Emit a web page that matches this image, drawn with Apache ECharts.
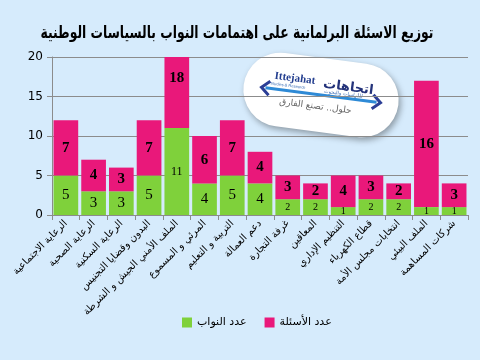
<!DOCTYPE html>
<html>
<head>
<meta charset="utf-8">
<script src="https://cdn.jsdelivr.net/npm/echarts@6/dist/echarts.min.js"></script>
<style>
html,body{margin:0;padding:0;background:#D6EBFC;}
#chart{width:480px;height:360px;}
</style>
</head>
<body>
<div id="chart"></div>
<script>
var title = 'توزيع الاسئلة البرلمانية على اهتمامات النواب بالسياسات الوطنية';
var categories = [
  'الرعاية الاجتماعية',
  'الرعاية الصحية',
  'الرعاية السكنية',
  'البدون وقضايا التجنيس',
  'الملف الأمني الجيش و الشرطة',
  'المرئي و المسموع',
  'التربية و التعليم',
  'دعم العمالة',
  'غرفة التجارة',
  'المعاقين',
  'التنظيم الإداري',
  'قطاع الكهرباء',
  'انتخابات مجلس الأمة',
  'الملف البيئي',
  'شركات المساهمة'
];
var seriesNames = ['عدد النواب', 'عدد الأسئلة'];
var deputies  = [5, 3, 3, 5, 11, 4, 5, 4, 2, 2, 1, 2, 2, 1, 1];
var questions = [7, 4, 3, 7, 18, 6, 7, 4, 3, 2, 4, 3, 2, 16, 3];
var yTicks = [0, 5, 10, 15, 20];

var GREEN = '#7FD13B', PINK = '#E9187A';
var SERIF = '"Liberation Serif","DejaVu Serif",serif';
var SANS = '"DejaVu Sans","Liberation Sans",sans-serif';

// fit title to the reference width
var TITLE_FONT = 'bold 17px "DejaVu Sans",sans-serif';
var cv = document.createElement('canvas').getContext('2d');
cv.font = TITLE_FONT;
var titleScale = 393 / cv.measureText(title).width;

var chart = echarts.init(document.getElementById('chart'), null, {renderer:'canvas'});

var yMax = yTicks[yTicks.length-1];
var greenData = deputies.map(function(v){
  var fs = v >= 10 ? 12 : (v <= 2 ? 10 : 15);
  return {value: v, label: {fontSize: fs}};
});
var pinkData = questions.map(function(v, i){
  var item = {value: v};
  if (deputies[i] + v > yMax) item.label = {offset: [0, -14]};
  return item;
});

chart.setOption({
  backgroundColor: '#D6EBFC',
  animation: false,
  legend: {
    data: seriesNames,
    left: 177,
    top: 312,
    itemWidth: 10,
    itemHeight: 10,
    itemGap: 18,
    icon: 'rect',
    textStyle: {fontFamily: SANS, fontSize: 11, color: '#000'}
  },
  grid: {left: 52, right: 12, top: 57, bottom: 145, containLabel: false},
  xAxis: {
    type: 'category',
    data: categories,
    axisLine: {show: true, lineStyle: {color: '#8C8C8C', width: 1}},
    axisTick: {show: true, length: 5, alignWithLabel: false, lineStyle: {color: '#8C8C8C'}},
    axisLabel: {
      rotate: 45, interval: 0, margin: 7,
      fontFamily: SANS, fontSize: 10, color: '#000'
    }
  },
  yAxis: {
    type: 'value',
    min: yTicks[0], max: yMax, interval: yTicks[1]-yTicks[0],
    axisLine: {show: true, lineStyle: {color: '#8C8C8C', width: 1}},
    axisTick: {show: true, length: 5, lineStyle: {color: '#8C8C8C'}},
    splitLine: {show: true, lineStyle: {color: '#8C8C8C', width: 1}},
    axisLabel: {fontFamily: SANS, fontSize: 12, color: '#000', margin: 9}
  },
  series: [
    {
      name: seriesNames[0], type: 'bar', stack: 'a',
      data: greenData, barCategoryGap: '11%',
      itemStyle: {color: GREEN},
      label: {show: true, position: 'inside', fontFamily: SERIF, color: '#000', fontSize: 15}
    },
    {
      name: seriesNames[1], type: 'bar', stack: 'a',
      data: pinkData, barCategoryGap: '11%',
      itemStyle: {color: PINK},
      label: {show: true, position: 'inside', fontFamily: SERIF, color: '#000', fontSize: 15, fontWeight: 'bold'}
    }
  ],
  graphic: [
  {
    type: 'text', x: 237, y: 34, scaleX: titleScale, z: 100,
    style: {text: title, font: TITLE_FONT, fill: '#000', textAlign: 'center', textVerticalAlign: 'middle'}
  },
  {
    type: 'group',
    x: 321, y: 95,
    rotation: -0.13,
    z: 100,
    children: [
      {type: 'rect', shape: {x: -78, y: -37, width: 156, height: 74, r: 37},
       style: {fill: '#FFFFFF', shadowBlur: 6, shadowOffsetX: 2, shadowOffsetY: 3, shadowColor: 'rgba(0,0,0,0.35)'}},
      {type: 'text', x: -28, y: -13, style: {text: 'Ittejahat', fill: '#233E8F', font: 'bold 11px "Liberation Serif",serif', textAlign: 'center', textVerticalAlign: 'middle'}},
      {type: 'text', x: 26, y: -11, style: {text: 'اتجاهات', fill: '#23327A', font: 'bold 13px "DejaVu Sans",sans-serif', textAlign: 'center', textVerticalAlign: 'middle'}},
      {type: 'text', x: -34, y: -5, style: {text: 'Studies & Research', fill: '#3A6DB5', font: '4px sans-serif', textAlign: 'center', textVerticalAlign: 'middle'}},
      {type: 'text', x: 22, y: -4, style: {text: 'للدراسات والبحوث', fill: '#3A6DB5', font: '5px "DejaVu Sans",sans-serif', textAlign: 'center', textVerticalAlign: 'middle'}},
      {type: 'line', shape: {x1: -56, y1: 0, x2: 56, y2: 0}, style: {stroke: '#2E8AD6', lineWidth: 3}},
      {type: 'polyline', shape: {points: [[-52,-7],[-60,0],[-52,7]]}, style: {stroke: '#2B3E96', lineWidth: 3, fill: null}},
      {type: 'polyline', shape: {points: [[52,-7],[60,0],[52,7]]}, style: {stroke: '#2B3E96', lineWidth: 3, fill: null}},
      {type: 'text', x: -4, y: 12, style: {text: 'حلول.. تصنع الفارق', fill: '#666666', font: '9px "DejaVu Sans",sans-serif', textAlign: 'center', textVerticalAlign: 'middle'}}
    ]
  }]
});
</script>
</body>
</html>
